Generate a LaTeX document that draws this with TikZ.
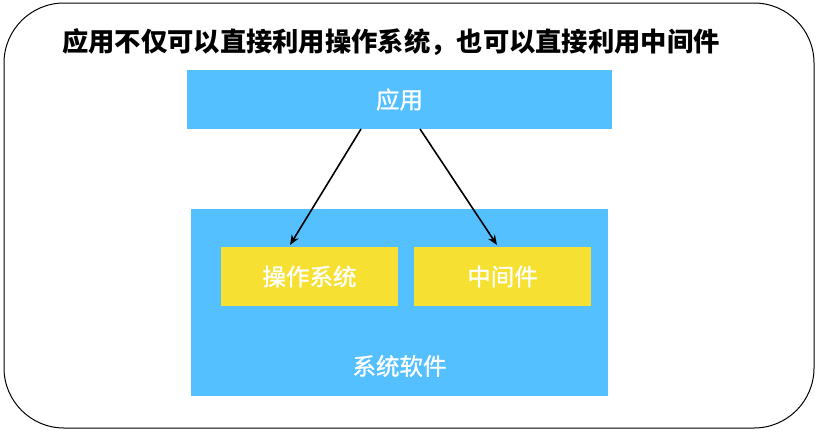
\documentclass[tikz,border=0pt]{standalone}
\usepackage{fontspec}
\usetikzlibrary{arrows.meta}
\setmainfont{Noto Sans CJK SC}
\newfontfamily\cjk{Noto Sans CJK SC}
\newfontfamily\cjkm[FakeBold=1.2]{Noto Sans CJK SC}
\definecolor{skyblue}{HTML}{54C0FF}
\definecolor{sunyellow}{HTML}{F6E133}
\begin{document}
\begin{tikzpicture}[x=1pt,y=-1pt,
  bluebox/.style={fill=skyblue,draw=none,inner sep=0pt},
  yellowbox/.style={fill=sunyellow,draw=none,inner sep=0pt},
  whitelabel/.style={text=white,font=\cjkm\fontsize{23.5}{27}\selectfont},
  arr/.style={-{Stealth[length=10pt,width=8pt]},line width=1.6pt,black}]
\useasboundingbox (0,0) rectangle (818,434);
\draw[line width=1pt,rounded corners=60pt] (4,3) rectangle (814,428);
\node[anchor=west,inner sep=0pt,font=\cjk\fontsize{26.3}{30}\selectfont\bfseries] (title) at (62,42) {应用不仅可以直接利用操作系统，也可以直接利用中间件};
\path[bluebox] (187,70) rectangle (612,129);
\node[whitelabel] (app) at (399.5,99.5) {应用};
\coordinate (appA) at (361,129);
\coordinate (appB) at (420,129);
\path[bluebox] (191,209) rectangle (608,396);
\node[whitelabel] (sys) at (399.5,366) {系统软件};
\path[yellowbox] (221,247) rectangle (398,306);
\node[whitelabel] (os) at (309.5,276.5) {操作系统};
\path[yellowbox] (414,247) rectangle (591,306);
\node[whitelabel] (mid) at (502.5,276.5) {中间件};
\coordinate (osT) at (290,245);
\coordinate (midT) at (497,245);
\draw[arr] (appA) -- (osT);
\draw[arr] (appB) -- (midT);
\end{tikzpicture}
\end{document}
